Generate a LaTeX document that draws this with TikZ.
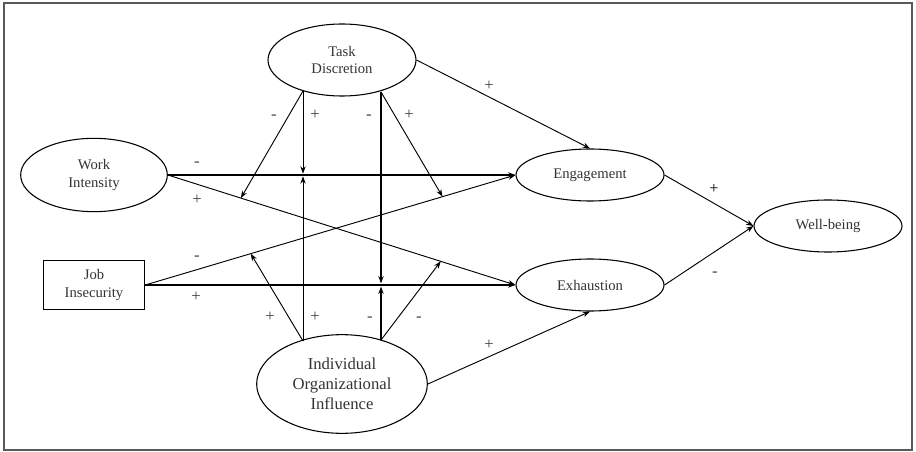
\documentclass[tikz,border=0pt]{standalone}
\usepackage{fontspec}
\setmainfont{Liberation Serif}
\usetikzlibrary{arrows.meta,shapes.geometric,calc}

\tikzset{
  factor/.style={draw, ellipse, line width=0.8pt, inner sep=0pt, align=center,
    text=black!80, font=\fontsize{11}{13}\selectfont},
  observed/.style={draw, rectangle, line width=0.8pt, inner sep=0pt, align=center,
    text=black!80, font=\fontsize{11}{13}\selectfont},
  link/.style={-{Stealth[length=5.5pt,width=4pt]}, line width=0.7pt},
  strong/.style={link, line width=1.5pt},
  sign/.style={inner sep=0pt, text=black!75, font=\fontsize{12.5}{14}\selectfont}
}

\begin{document}
\begin{tikzpicture}[x=0.75pt, y=-0.75pt]
  \useasboundingbox (0,0) rectangle (916,452);
  \draw[black!65, line width=1pt] (4,3) rectangle (912,450);

  % constructs
  \node[factor, minimum width=111pt, minimum height=54pt] (td) at (342,60) {Task\\Discretion};
  \node[factor, minimum width=110pt, minimum height=55pt] (wi) at (94,175) {Work\\Intensity};
  \node[observed, minimum width=76pt, minimum height=37pt] (ji) at (94,285) {Job\\Insecurity};
  \node[factor, minimum width=128pt, minimum height=74pt, font=\fontsize{12.5}{15}\selectfont] (ioi) at (342,384) {Individual\\Organizational\\Influence};
  \node[factor, minimum width=111pt, minimum height=39pt] (eng) at (590,175) {Engagement};
  \node[factor, minimum width=111pt, minimum height=39pt] (exh) at (590,285) {Exhaustion};
  \node[factor, minimum width=111pt, minimum height=39pt] (wb) at (828,226) {Well-being};

  % start points of the moderating paths
  \coordinate (tdA) at (303,91);
  \coordinate (tdB) at (381,92);
  \coordinate (ioA) at (303,341);
  \coordinate (ioB) at (381,340);

  % points on the direct paths
  \coordinate (wxA) at ($(wi.east)!0.21!(exh.west)$);
  \coordinate (wxB) at ($(wi.east)!0.785!(exh.west)$);
  \coordinate (jeA) at ($(ji.east)!0.285!(eng.west)$);
  \coordinate (jeB) at ($(ji.east)!0.803!(eng.west)$);

  % direct paths
  \draw[strong] (wi.east) -- (eng.west);
  \draw[strong] (ji.east) -- (exh.west);
  \draw[link] (wi.east) -- (exh.west);
  \draw[link] (ji.east) -- (eng.west);
  \draw[link] (td.east) -- (eng.north);
  \draw[link] (ioi.east) -- (exh.south);
  \draw[link] (eng.east) -- (wb.west);
  \draw[link] (exh.east) -- (wb.west);

  % moderation by task discretion
  \draw[link] (tdA) -- ([yshift=1pt]tdA |- wi.east);
  \draw[link] (tdA) -- (wxA);
  \draw[strong] (tdB) -- ([yshift=1.2pt]tdB |- ji.east);
  \draw[link] (tdB) -- (jeB);

  % moderation by individual organizational influence
  \draw[link] (ioA) -- ([yshift=-1pt]ioA |- wi.east);
  \draw[link] (ioA) -- (jeA);
  \draw[strong] (ioB) -- ([yshift=-1.2pt]ioB |- ji.east);
  \draw[link] (ioB) -- (wxB);

  % signs
  \foreach \x/\y/\s [count=\i] in {197/164/-, 197/200/+, 197/258/-, 196/297/+,
      274/117/-, 315/115/+, 369/117/-, 409/115/+,
      270/317/+, 315/317/+, 370/319/-, 419/319/-,
      489/86/+, 715/274/-, 489/345/+}
    \node[sign] (s\i) at (\x,\y) {\s};
  \node[sign, font=\fontsize{12}{14}\selectfont\bfseries] (s16) at (714,189) {+};
\end{tikzpicture}
\end{document}
